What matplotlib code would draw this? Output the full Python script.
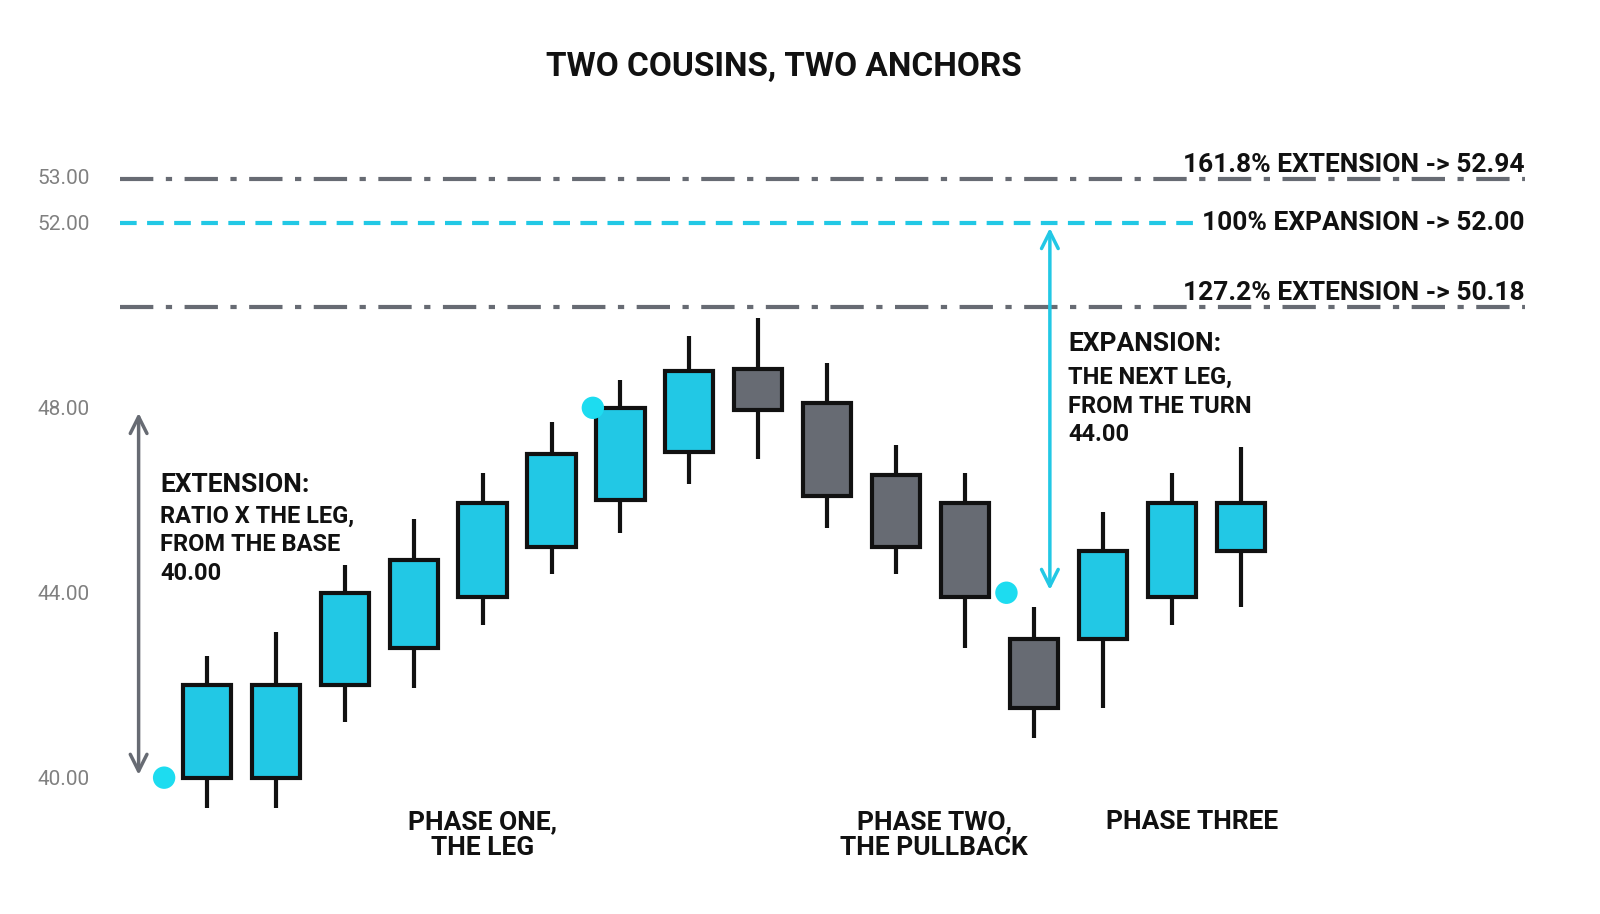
import matplotlib.pyplot as plt
from matplotlib.patches import Rectangle

plt.rcParams['font.family'] = ['Roboto', 'DejaVu Sans']

opens = [40.0, 40.0, 42.0, 42.8, 43.9, 45.0, 46.0, 47.05, 48.85, 48.1, 46.55, 45.95, 43.0, 43.0, 43.9, 44.9]
closes = [42.0, 42.0, 44.0, 44.7, 45.95, 47.0, 48.0, 48.8, 47.95, 46.1, 45.0, 43.9, 41.5, 44.9, 45.95, 45.95]
highs = [42.64, 43.16, 44.6, 45.6, 46.6, 47.7, 48.6, 49.55, 49.95, 48.98, 47.2, 46.6, 43.7, 45.75, 46.6, 47.15]
lows = [39.35, 39.35, 41.2, 41.95, 43.3, 44.4, 45.3, 46.35, 46.9, 45.4, 44.4, 42.8, 40.85, 41.5, 43.3, 43.7]

level_ext = [52.94, 50.18]
level_exp = 52.00
base, top, turn = 40.0, 48.0, 44.0
ytick_vals = [40, 44, 48, 52, 53]

CYAN = '#22c8e5'
DOT = '#1ddcf0'
GREY = '#676b73'
DARK = '#111111'

fig = plt.figure(figsize=(16, 9.14), dpi=100)
ax = fig.add_axes([0.075, 0.048, 0.878, 0.784])
ax.set_xlim(-1.26, 19.12)
ax.set_ylim(38, 53.5)

for i, (o, c, h, l) in enumerate(zip(opens, closes, highs, lows)):
    col = CYAN if c >= o else GREY
    ax.plot([i, i], [l, h], color=DARK, lw=3, zorder=2, solid_capstyle='butt')
    ax.add_patch(Rectangle((i - 0.35, min(o, c)), 0.7, abs(c - o), facecolor=col,
                           edgecolor=DARK, lw=3, zorder=3))

for lv in level_ext:
    ax.plot([-1.26, 19.12], [lv, lv], color=GREY, lw=3, ls=(0, (8, 3, 1.5, 3)))
ax.plot([-1.26, 14.33], [level_exp, level_exp], color=CYAN, lw=3, ls=(0, (4, 2.5)))

lab = dict(fontsize=19, fontweight='bold', color=DARK, ha='right', va='bottom')
ax.text(19.12, level_ext[0] + 0.05, '161.8% EXTENSION -> 52.94', **lab)
ax.text(19.12, level_exp, '100% EXPANSION -> 52.00', **dict(lab, va='center'))
ax.text(19.12, level_ext[1] + 0.05, '127.2% EXTENSION -> 50.18', **lab)

# anchor dots and arrows
ax.scatter([-0.62, 5.6, 11.6], [base, top, turn], s=260, color=DOT, zorder=5, edgecolor='none')
ax.annotate('', xy=(-0.99, base), xytext=(-0.99, top - 0.05),
            arrowprops=dict(arrowstyle='<->', color=GREY, lw=2.5, mutation_scale=30))
ax.annotate('', xy=(12.23, turn), xytext=(12.23, level_exp - 0.05),
            arrowprops=dict(arrowstyle='<->', color=CYAN, lw=2.5, mutation_scale=30))

ax.text(-0.68, 46.6, 'EXTENSION:', fontsize=19, fontweight='bold', color=DARK, va='top')
ax.text(-0.68, 45.9, 'RATIO X THE LEG,\nFROM THE BASE\n40.00', fontsize=17, fontweight='bold',
        color=DARK, va='top', linespacing=1.3)
ax.text(12.5, 49.65, 'EXPANSION:', fontsize=19, fontweight='bold', color=DARK, va='top')
ax.text(12.5, 48.9, 'THE NEXT LEG,\nFROM THE TURN\n44.00', fontsize=17, fontweight='bold',
        color=DARK, va='top', linespacing=1.3)

ph = dict(fontsize=19, fontweight='bold', color=DARK, ha='center', va='top', linespacing=1.1)
ax.text(4.0, 39.3, 'PHASE ONE,\nTHE LEG', **ph)
ax.text(10.55, 39.3, 'PHASE TWO,\nTHE PULLBACK', **ph)
ax.text(14.3, 39.3, 'PHASE THREE', **ph)

ax.set_yticks(ytick_vals)
ax.set_yticklabels([f'{v:.2f}' for v in ytick_vals], color='#808080', fontsize=15)
ax.set_xticks([])
ax.tick_params(axis='y', length=0, pad=22)
for s in ax.spines.values():
    s.set_visible(False)

fig.text(0.49, 0.927, 'TWO COUSINS, TWO ANCHORS', fontsize=24, fontweight='bold',
         ha='center', va='center', color=DARK)

fig.savefig('out.png', dpi=100)
